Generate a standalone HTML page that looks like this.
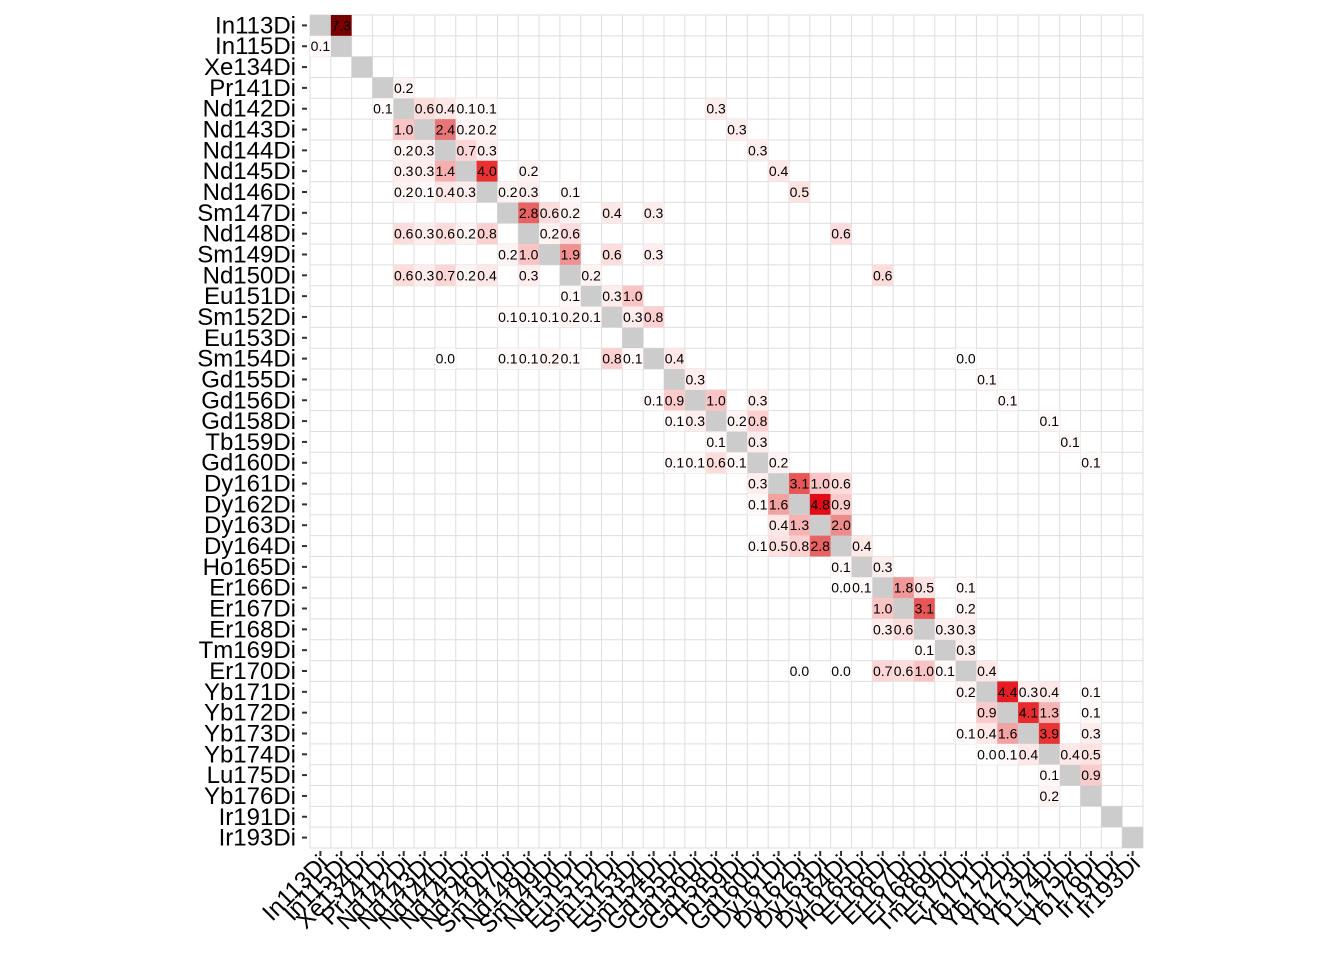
<!DOCTYPE html>
<html><head><meta charset="utf-8"><style>
body{margin:0;background:#fff;}
svg text{font-family:"Liberation Sans",Arial,sans-serif;}
</style></head><body>
<svg id="chart" width="1344" height="960"></svg>
<script>
const channels=["In113Di","In115Di","Xe134Di","Pr141Di","Nd142Di","Nd143Di","Nd144Di","Nd145Di","Nd146Di","Sm147Di","Nd148Di","Sm149Di","Nd150Di","Eu151Di","Sm152Di","Eu153Di","Sm154Di","Gd155Di","Gd156Di","Gd158Di","Tb159Di","Gd160Di","Dy161Di","Dy162Di","Dy163Di","Dy164Di","Ho165Di","Er166Di","Er167Di","Er168Di","Tm169Di","Er170Di","Yb171Di","Yb172Di","Yb173Di","Yb174Di","Lu175Di","Yb176Di","Ir191Di","Ir193Di"];
const cellRows=[
0,
1,
3,
4,4,4,4,4,4,
5,5,5,5,5,
6,6,6,6,6,
7,7,7,7,7,7,
8,8,8,8,8,8,8,8,
9,9,9,9,9,
10,10,10,10,10,10,10,10,
11,11,11,11,11,
12,12,12,12,12,12,12,12,
13,13,13,
14,14,14,14,14,14,14,
16,16,16,16,16,16,16,16,16,
17,17,
18,18,18,18,18,
19,19,19,19,19,
20,20,20,
21,21,21,21,21,21,
22,22,22,22,
23,23,23,23,
24,24,24,
25,25,25,25,25,
26,26,
27,27,27,27,27,
28,28,28,
29,29,29,29,
30,30,
31,31,31,31,31,31,31,
32,32,32,32,32,
33,33,33,33,
34,34,34,34,34,
35,35,35,35,35,
36,36,
37];
const cellCols=[
1,
0,
4,
3,5,6,7,8,19,
4,6,7,8,20,
4,5,7,8,21,
4,5,6,8,10,22,
4,5,6,7,9,10,12,23,
10,11,12,14,16,
4,5,6,7,8,11,12,25,
9,10,12,14,16,
4,5,6,7,8,10,13,27,
12,14,15,
9,10,11,12,13,15,16,
6,9,10,11,12,14,15,17,31,
18,32,
16,17,19,21,33,
17,18,20,21,35,
19,21,36,
17,18,19,20,22,37,
21,23,24,25,
21,22,24,25,
22,23,25,
21,22,23,24,26,
25,27,
25,26,28,29,31,
27,29,31,
27,28,30,31,
29,31,
23,25,27,28,29,30,32,
31,33,34,35,37,
32,34,35,37,
31,32,33,35,37,
32,33,34,36,37,
35,37,
35];
const cellValues=[
7.3,
0.1,
0.2,
0.1,0.6,0.4,0.1,0.1,0.3,
1.0,2.4,0.2,0.2,0.3,
0.2,0.3,0.7,0.3,0.3,
0.3,0.3,1.4,4.0,0.2,0.4,
0.2,0.1,0.4,0.3,0.2,0.3,0.1,0.5,
2.8,0.6,0.2,0.4,0.3,
0.6,0.3,0.6,0.2,0.8,0.2,0.6,0.6,
0.2,1.0,1.9,0.6,0.3,
0.6,0.3,0.7,0.2,0.4,0.3,0.2,0.6,
0.1,0.3,1.0,
0.1,0.1,0.1,0.2,0.1,0.3,0.8,
0.0,0.1,0.1,0.2,0.1,0.8,0.1,0.4,0.0,
0.3,0.1,
0.1,0.9,1.0,0.3,0.1,
0.1,0.3,0.2,0.8,0.1,
0.1,0.3,0.1,
0.1,0.1,0.6,0.1,0.2,0.1,
0.3,3.1,1.0,0.6,
0.1,1.6,4.8,0.9,
0.4,1.3,2.0,
0.1,0.5,0.8,2.8,0.4,
0.1,0.3,
0.0,0.1,1.8,0.5,0.1,
1.0,3.1,0.2,
0.3,0.6,0.3,0.3,
0.1,0.3,
0.0,0.0,0.7,0.6,1.0,0.1,0.4,
0.2,4.4,0.3,0.4,0.1,
0.9,4.1,1.3,0.1,
0.1,0.4,1.6,3.9,0.3,
0.0,0.1,0.4,0.4,0.5,
0.1,0.9,
0.2];

const NS="http://www.w3.org/2000/svg";
const svg=document.getElementById('chart');
const X0=310,Y0=15,W=833,H=833,N=channels.length,cw=W/N,ch=H/N;
const xPos=j=>X0+j*cw, yPos=i=>Y0+i*ch;
function mk(t,a){const e=document.createElementNS(NS,t);for(const k in a)e.setAttribute(k,a[k]);svg.appendChild(e);return e;}
const stops=[[0,[255,255,255]],[1,[251,196,196]],[2.5,[232,112,112]],[4,[234,48,48]],[5,[226,0,16]],[7.3,[122,0,0]]];
function col(v){for(let k=1;k<stops.length;k++){if(v<=stops[k][0]){const a=stops[k-1],b=stops[k],t=(v-a[0])/(b[0]-a[0]);return 'rgb('+a[1].map((c,i)=>Math.round(c+(b[1][i]-c)*t)).join(',')+')';}}return 'rgb(122,0,0)';}
for(let k=0;k<=N;k++){
 let l=mk('line',{x1:xPos(k),x2:xPos(k),y1:Y0,y2:Y0+H,stroke:'#dedede','stroke-width':1});
 
 
 l=mk('line',{x1:X0,x2:X0+W,y1:yPos(k),y2:yPos(k),stroke:'#dedede','stroke-width':1});
 
 
}
for(let k=0;k<N;k++){
 const r=mk('rect',{x:xPos(k),y:yPos(k),width:cw,height:ch,fill:'#cccccc'});
 
 
}
for(let n=0;n<cellValues.length;n++){
 const i=cellRows[n],j=cellCols[n],v=cellValues[n];
 const r=mk('rect',{x:xPos(j),y:yPos(i),width:cw,height:ch,fill:col(v)});
 
 
}
for(let n=0;n<cellValues.length;n++){
 const i=cellRows[n],j=cellCols[n],v=cellValues[n];
 const t=mk('text',{x:xPos(j)+cw/2,y:yPos(i)+ch/2+5,'text-anchor':'middle','font-size':14,fill:'#000'});
 t.textContent=v.toFixed(1);
 
 
}
for(let k=0;k<N;k++){
 const yc=yPos(k)+ch/2;
 let tk=mk('line',{x1:X0-8,x2:X0-3,y1:yc,y2:yc,stroke:'#333','stroke-width':2});
 
 
 let t=mk('text',{x:X0-14,y:yc+8,'text-anchor':'end','font-size':24,fill:'#000'});
 t.textContent=channels[k];
 
 
 const xc=xPos(k)+cw/2;
 tk=mk('line',{x1:xc,x2:xc,y1:Y0+H+3,y2:Y0+H+8,stroke:'#333','stroke-width':2});
 
 
 t=mk('text',{x:0,y:0,'text-anchor':'end','font-size':24,fill:'#000',transform:`translate(${xc+9},${Y0+H+17}) rotate(-45)`});
 t.textContent=channels[k];
 
 
}
</script>
</body></html>
